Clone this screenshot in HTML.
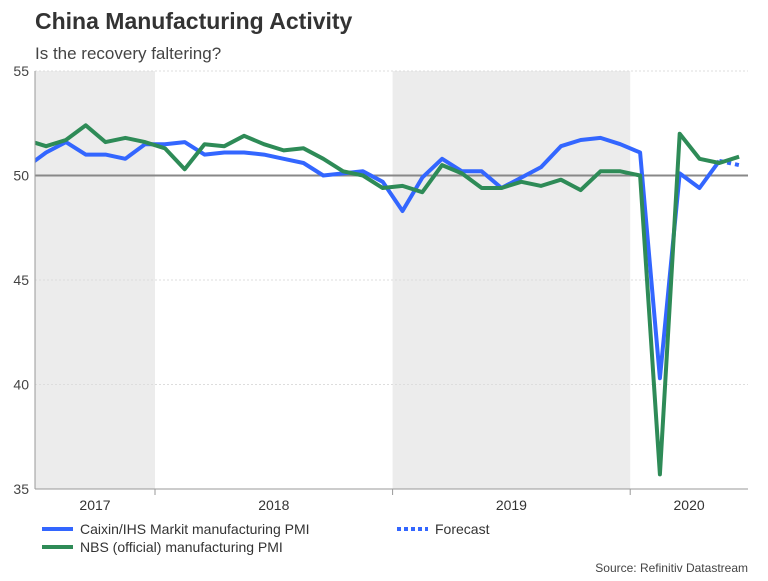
<!DOCTYPE html>
<html><head><meta charset="utf-8"><style>
body{margin:0;background:#fff;font-family:"Liberation Sans",sans-serif}
svg text{font-family:"Liberation Sans",sans-serif}
</style></head><body>
<svg id="c" width="768" height="576" viewBox="0 0 768 576" xmlns="http://www.w3.org/2000/svg">
<text x="35" y="29" font-size="23" font-weight="bold" fill="#333">China Manufacturing Activity</text>
<text x="35" y="59" font-size="17" fill="#444">Is the recovery faltering?</text>
<g id="bands"></g><g id="grid"></g><g id="series"></g><g id="axes"></g>
<g>
<line x1="42" y1="529" x2="73" y2="529" stroke="#3366ff" stroke-width="4"/>
<text x="80" y="534" font-size="14" fill="#333">Caixin/IHS Markit manufacturing PMI</text>
<line x1="397" y1="529" x2="428" y2="529" stroke="#3366ff" stroke-width="4" stroke-dasharray="4,3"/>
<text x="435" y="534" font-size="14" fill="#333">Forecast</text>
<line x1="42" y1="547" x2="73" y2="547" stroke="#2e8b57" stroke-width="4"/>
<text x="80" y="552" font-size="14" fill="#333">NBS (official) manufacturing PMI</text>
</g>
<text x="748" y="572" font-size="12" fill="#444" text-anchor="end">Source: Refinitiv Datastream</text>
</svg>
<script>
const years=[2017,2018,2019,2020];
const yTicks=[35,40,45,50,55];
const caixin=[50.4,51.1,51.6,51.0,51.0,50.8,51.5,51.5,51.6,51.0,51.1,51.1,51.0,50.8,50.6,50.0,50.1,50.2,49.7,48.3,49.9,50.8,50.2,50.2,49.4,49.9,50.4,51.4,51.7,51.8,51.5,51.1,40.3,50.1,49.4,50.7];
const forecast=[50.7,50.5];
const nbs=[51.7,51.4,51.7,52.4,51.6,51.8,51.6,51.3,50.3,51.5,51.4,51.9,51.5,51.2,51.3,50.8,50.2,50.0,49.4,49.5,49.2,50.5,50.1,49.4,49.4,49.7,49.5,49.8,49.3,50.2,50.2,50.0,35.7,52.0,50.8,50.6,50.9];
const NS='http://www.w3.org/2000/svg';
const L=35,R=748,T=71,B=489,M=19.8,Y0=155;
// index 0 = Jun 2017
const x=i=>Y0+(i-6.5)*M;
const y=v=>B-(v-35)/20*(B-T);
function el(t,a,p){const e=document.createElementNS(NS,t);for(const k in a)e.setAttribute(k,a[k]);document.getElementById(p).appendChild(e);return e;}
// bands
const bStarts=[L,Y0,Y0+12*M,Y0+24*M,R];
for(let i=0;i<4;i++){
 if(i%2===0){const r=el('rect',{x:bStarts[i],y:T,width:bStarts[i+1]-bStarts[i],height:B-T,fill:'#ececec'},'bands');
 
 }
 const t=el('text',{x:(bStarts[i]+bStarts[i+1])/2,y:510,'font-size':14,fill:'#333','text-anchor':'middle'},'axes');
 t.textContent=years[i];
 
 
 if(i>0){const tk=el('line',{x1:bStarts[i],x2:bStarts[i],y1:B,y2:B+6,stroke:'#999'},'axes');
 
 }
}
yTicks.forEach(v=>{
 const g=el('line',{x1:L,x2:R,y1:y(v),y2:y(v),stroke:v===50?'#888':'#ddd','stroke-width':v===50?2:1,'stroke-dasharray':v===50?'':'2,2'},'grid');
 
 
 const t=el('text',{x:29,y:y(v)+5,'font-size':14,fill:'#444','text-anchor':'end'},'axes');
 t.textContent=v;
 
 
});
const ax=el('line',{x1:L,x2:L,y1:T,y2:B,stroke:'#999'},'axes');


const ax2=el('line',{x1:L,x2:R,y1:B,y2:B,stroke:'#999'},'axes');


const clip=el('clipPath',{id:'cp'},'series');el('rect',{x:L,y:T-5,width:R-L,height:B-T+10},'cp');
const pts=(arr,o)=>arr.map((v,i)=>x(i+o).toFixed(1)+','+y(v).toFixed(1)).join(' ');
const s1=el('polyline',{points:pts(caixin,0),fill:'none',stroke:'#3366ff','stroke-width':4,'stroke-linejoin':'round','clip-path':'url(#cp)'},'series');


const s2=el('polyline',{points:pts(forecast,caixin.length-1),fill:'none',stroke:'#3366ff','stroke-width':4,'stroke-dasharray':'4,4','clip-path':'url(#cp)'},'series');


const s3=el('polyline',{points:pts(nbs,0),fill:'none',stroke:'#2e8b57','stroke-width':4,'stroke-linejoin':'round','clip-path':'url(#cp)'},'series');


</script>
</body></html>
